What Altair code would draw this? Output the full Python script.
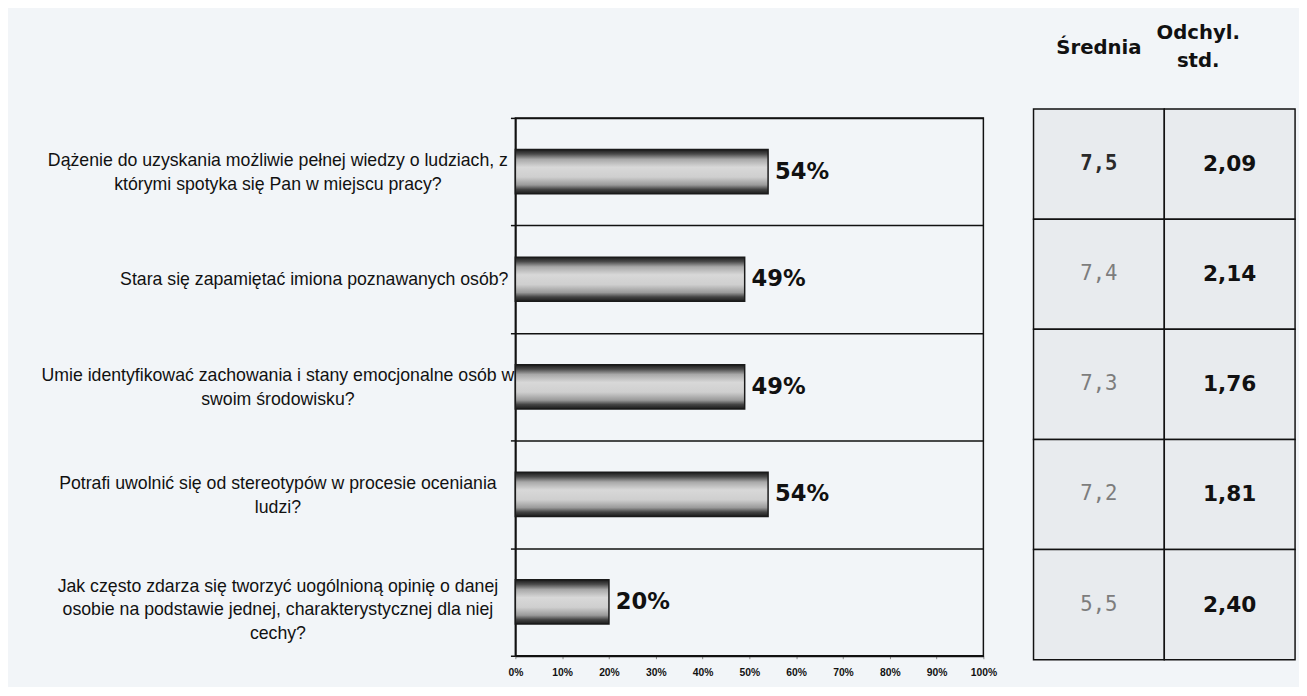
import altair as alt
import pandas as pd

# ---- data ----
questions = [
    "Dążenie do uzyskania możliwie pełnej wiedzy o ludziach, z|którymi spotyka się Pan w miejscu pracy?",
    "Stara się zapamiętać imiona poznawanych osób?",
    "Umie identyfikować zachowania i stany emocjonalne osób w|swoim środowisku?",
    "Potrafi uwolnić się od stereotypów w procesie oceniania|ludzi?",
    "Jak często zdarza się tworzyć uogólnioną opinię o danej|osobie na podstawie jednej, charakterystycznej dla niej|cechy?",
]
percent = [0.54, 0.49, 0.49, 0.54, 0.20]
means = [7.5, 7.4, 7.3, 7.2, 5.5]
stds = [2.09, 2.14, 1.76, 1.81, 2.40]
col_headers = ["Średnia", "Odchyl.\nstd."]
x_ticks = [0, 0.1, 0.2, 0.3, 0.4, 0.5, 0.6, 0.7, 0.8, 0.9, 1.0]

BG = "#f2f5f8"
INK = "#111111"

bars_df = pd.DataFrame({"q": questions, "p": percent})

grad = alt.Gradient(
    gradient="linear", x1=0, x2=0, y1=0, y2=1,
    stops=[
        alt.GradientStop(offset=0.0, color="#1a1a1a"),
        alt.GradientStop(offset=0.1, color="#4a4a4a"),
        alt.GradientStop(offset=0.22, color="#a8a8a8"),
        alt.GradientStop(offset=0.4, color="#d8d8d8"),
        alt.GradientStop(offset=0.62, color="#cfcfcf"),
        alt.GradientStop(offset=0.8, color="#9a9a9a"),
        alt.GradientStop(offset=0.9, color="#444444"),
        alt.GradientStop(offset=1.0, color="#1a1a1a"),
    ],
)

y_axis = alt.Axis(
    title=None,
    labelExpr="split(datum.label, '|')",
    labelAlign="center",
    labelBaseline="middle",
    labelPadding={
        "condition": {"test": "length(split(datum.value, '|')) == 1", "value": 200},
        "value": 237,
    },
    labelOffset={
        "condition": [
            {"test": "length(split(datum.value, '|')) == 3", "value": -16},
            {"test": "length(split(datum.value, '|')) == 2", "value": -11},
        ],
        "value": 0,
    },
    labelFont="Liberation Sans",
    labelFontSize=18,
    labelLineHeight=24,
    labelColor=INK,
    labelLimit=800,
    tickBand="extent",
    grid=True,
    gridColor=INK,
    gridWidth=1.5,
    gridOpacity=1,
    domainColor=INK,
    domainWidth=1.8,
    tickColor=INK,
    tickSize=5,
    tickWidth=1.5,
)

x_axis = alt.Axis(
    title=None,
    values=x_ticks,
    format=".0%",
    labelFont="Liberation Sans",
    labelFontWeight="bold",
    labelFontSize=10.5,
    labelColor=INK,
    labelPadding=9,
    labelFlush=False,
    labelOverlap=False,
    tickSize=3,
    tickColor="#888888",
    domainColor=INK,
    domainWidth=2,
    grid=False,
)

base = alt.Chart(bars_df)
bars = base.mark_bar(size=45, fill=grad, stroke="#1a1a1a", strokeWidth=1.5).encode(
    x=alt.X("p:Q", scale=alt.Scale(domain=[0, 1], nice=False), axis=x_axis),
    y=alt.Y("q:N", sort=questions, scale=alt.Scale(paddingInner=0, paddingOuter=0), axis=y_axis),
)
values = base.mark_text(
    align="left", baseline="middle", dx=7,
    font="DejaVu Sans", fontWeight="bold", fontSize=23, color=INK,
).encode(
    x=alt.X("p:Q"),
    y=alt.Y("q:N", sort=questions),
    text=alt.Text("p:Q", format=".0%"),
)
bar_chart = alt.layer(bars, values).properties(
    width=476, height=547,
    view=alt.ViewBackground(stroke=INK, strokeWidth=1.5, fill=BG),
)

# ---- table built from the arrays ----
rows = []
for i in range(len(questions)):
    rows.append({"row": i, "col": col_headers[0], "txt": f"{means[i]:.1f}".replace(".", ","), "kind": "mean"})
    rows.append({"row": i, "col": col_headers[1], "txt": f"{stds[i]:.2f}".replace(".", ","), "kind": "std"})
tdf = pd.DataFrame(rows)
hdf = pd.DataFrame({"col": col_headers})

tx = alt.X("col:N", sort=col_headers, scale=alt.Scale(paddingInner=0, paddingOuter=0), axis=None)
ty = alt.Y("row:O", scale=alt.Scale(paddingInner=0, paddingOuter=0, range=[-9, 551]), axis=None)

tbase = alt.Chart(tdf).encode(x=tx, y=ty)
cells = tbase.mark_rect(fill="#e8ebee", stroke=INK, strokeWidth=1.5)
mean_first = tbase.transform_filter("datum.kind == 'mean' && datum.row == 0").mark_text(
    font="DejaVu Sans Mono", fontWeight="bold", fontSize=21, color="#2a2a2a", baseline="middle"
).encode(text="txt:N")
mean_rest = tbase.transform_filter("datum.kind == 'mean' && datum.row > 0").mark_text(
    font="DejaVu Sans Mono", fontSize=21, color="#7d7d7d", baseline="middle"
).encode(text="txt:N")
std_txt = tbase.transform_filter("datum.kind == 'std'").mark_text(
    font="DejaVu Sans", fontWeight="bold", fontSize=22, color=INK, baseline="middle"
).encode(text="txt:N")

hbase = alt.Chart(hdf).encode(x=alt.X("col:N", sort=col_headers), text="col:N")
head1 = hbase.transform_filter(alt.datum.col == col_headers[0]).mark_text(
    font="DejaVu Sans", fontWeight="bold", fontSize=20, color=INK, baseline="middle", lineBreak="\n"
).encode(y=alt.value(-71))
head2 = hbase.transform_filter(alt.datum.col == col_headers[1]).mark_text(
    font="DejaVu Sans", fontWeight="bold", fontSize=20, color=INK, baseline="middle",
    lineBreak="\n", lineHeight=28, dx=-32,
).encode(y=alt.value(-86))

table = alt.layer(cells, mean_first, mean_rest, std_txt, head1, head2).properties(
    width=266, height=551,
    view=alt.ViewBackground(stroke="transparent"),
)

chart = alt.hconcat(bar_chart, table, spacing=51, bounds="flush").properties(
    background=BG,
    padding={"left": 32, "top": 9, "right": 2, "bottom": 2},
).configure_view(stroke=None)

chart.save("out.html", embed_options={"renderer": "svg", "actions": False})
